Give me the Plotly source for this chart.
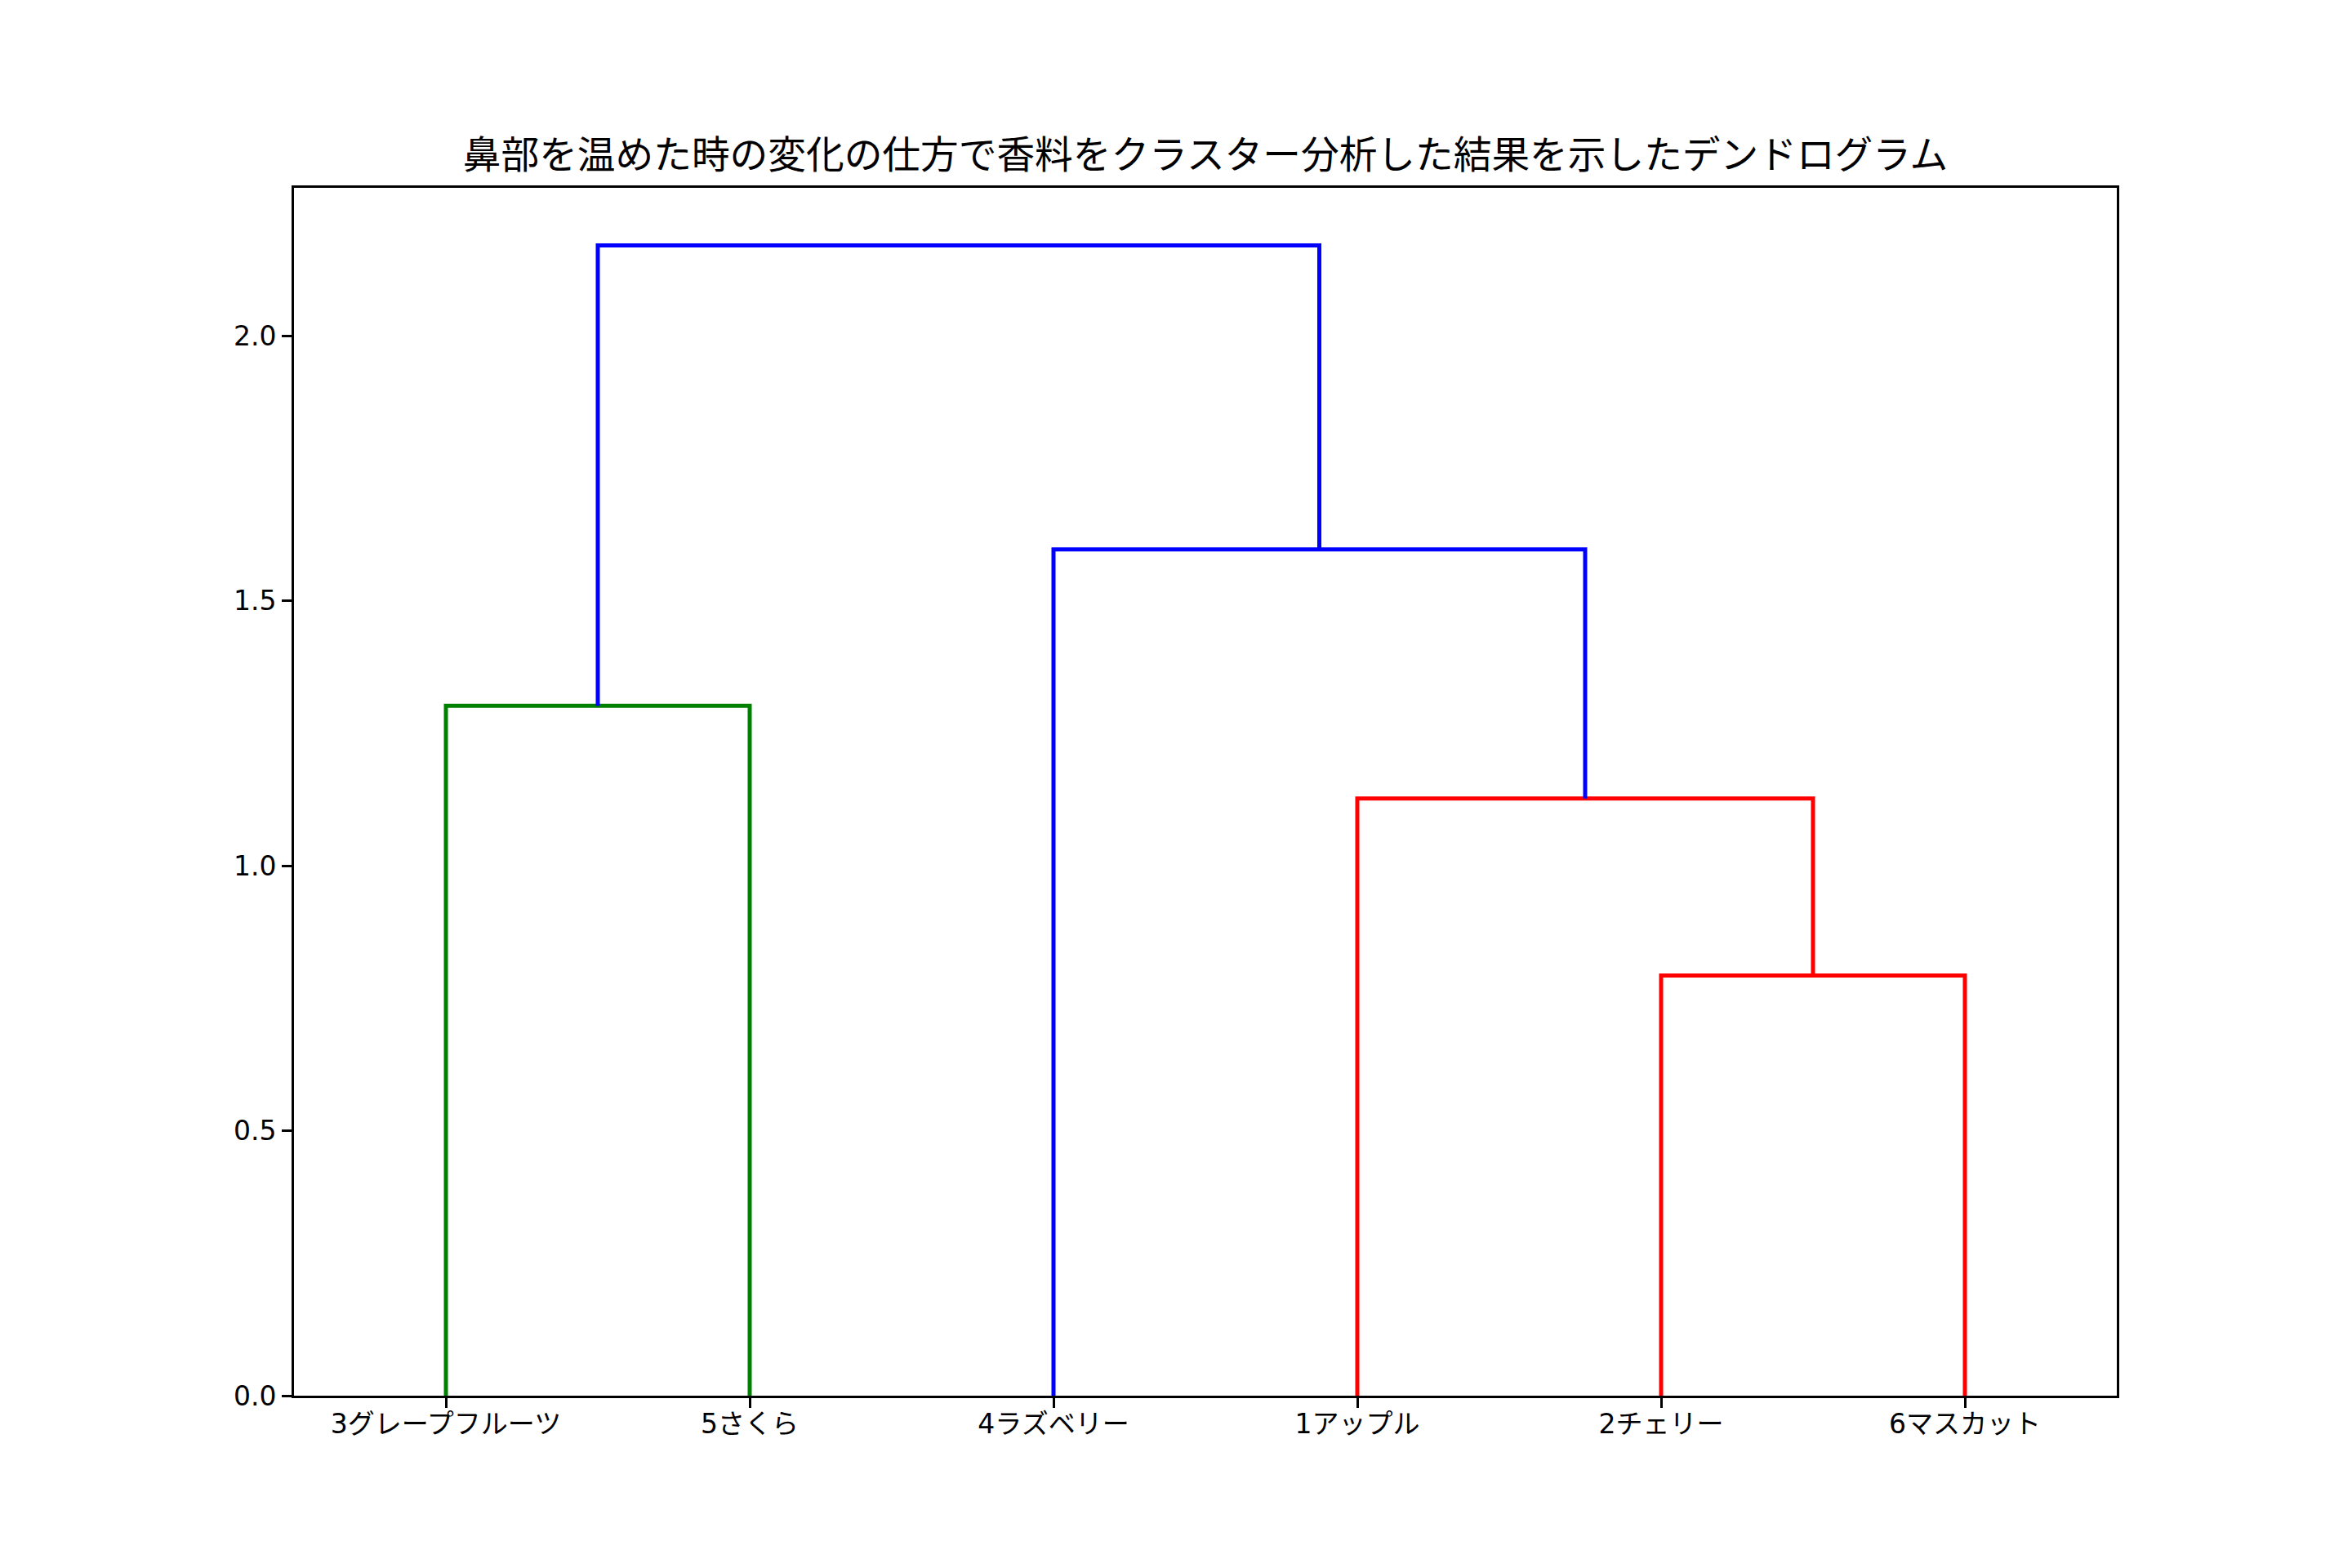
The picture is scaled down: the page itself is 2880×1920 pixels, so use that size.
import plotly.graph_objects as go

# ---- data ----
leaf_labels = ["3グレープフルーツ", "5さくら", "4ラズベリー", "1アップル", "2チェリー", "6マスカット"]
# merges: node ids 0..5 are leaves (display order); new clusters get ids 6, 7, ...
merge_left = [4, 3, 0, 2, 8]
merge_right = [5, 6, 1, 7, 9]
merge_height = [0.793, 1.127, 1.302, 1.597, 2.171]
merge_color = ["#ff0000", "#ff0000", "#008000", "#0000ff", "#0000ff"]
y_tick_vals = [0.0, 0.5, 1.0, 1.5, 2.0]
y_tick_text = ["0.0", "0.5", "1.0", "1.5", "2.0"]
title_text = "鼻部を温めた時の変化の仕方で香料をクラスター分析した結果を示したデンドログラム"

# ---- build dendrogram geometry from the linkage ----
n = len(leaf_labels)
leaf_x = [5 + 10 * i for i in range(n)]
node_x = {i: leaf_x[i] for i in range(n)}
node_h = {i: 0.0 for i in range(n)}

fig = go.Figure()
for k, (a, b, h, c) in enumerate(zip(merge_left, merge_right, merge_height, merge_color)):
    xa, xb = node_x[a], node_x[b]
    fig.add_trace(go.Scatter(
        x=[xa, xa, xb, xb], y=[node_h[a], h, h, node_h[b]],
        mode="lines", line=dict(color=c, width=5),
        hoverinfo="skip", showlegend=False))
    nid = n + k
    node_x[nid] = (xa + xb) / 2
    node_h[nid] = h

ymax = max(merge_height) * 1.05
font_family = "DejaVu Sans, Noto Sans CJK JP, sans-serif"

W, H = 2872, 1912  # page body adds an 8px margin
fig.update_layout(
    width=W, height=H,
    margin=dict(l=352, r=288, t=222, b=211, pad=0),
    paper_bgcolor="white", plot_bgcolor="white",
    font=dict(family=font_family, size=33, color="black"),
    showlegend=False,
    title=dict(text=title_text, x=(352 + (W - 288)) / 2 / W, xanchor="center",
               y=1 - 182 / H, yanchor="middle",
               font=dict(family=font_family, size=46.7, color="black")),
)
fig.update_xaxes(
    range=[0, 10 * n], tickmode="array", tickvals=leaf_x, ticktext=leaf_labels,
    showgrid=False, zeroline=False,
    showline=True, mirror=True, linecolor="black", linewidth=2.7,
    ticks="outside", ticklen=12, tickwidth=2.7, tickcolor="black",
    ticklabelstandoff=-8,
    tickfont=dict(family=font_family, size=33, color="black"),
)
fig.update_yaxes(
    range=[0, ymax], tickmode="array", tickvals=y_tick_vals, ticktext=y_tick_text,
    showgrid=False, zeroline=False,
    showline=True, mirror=True, linecolor="black", linewidth=2.7,
    ticks="outside", ticklen=12, tickwidth=2.7, tickcolor="black",
    tickfont=dict(family=font_family, size=33, color="black"),
)

fig.write_html("out.html")
